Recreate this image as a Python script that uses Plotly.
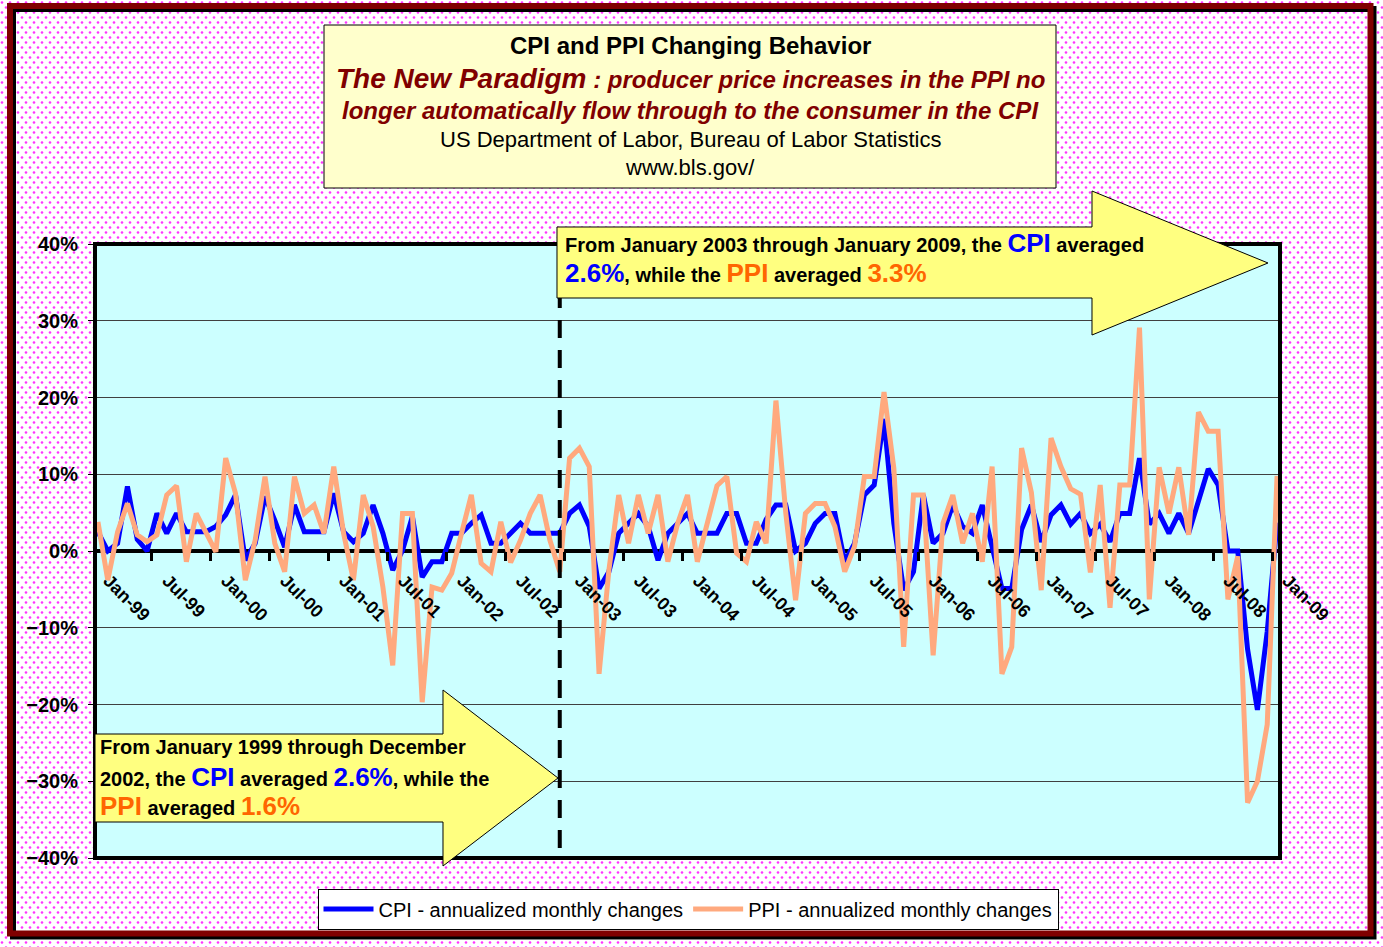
import base64
import plotly.graph_objects as go

# ---------------- data ----------------
months = list(range(121))  # Jan-99 .. Jan-09
tick_labels = ["Jan-99", "Jul-99", "Jan-00", "Jul-00", "Jan-01", "Jul-01", "Jan-02", "Jul-02",
               "Jan-03", "Jul-03", "Jan-04", "Jul-04", "Jan-05", "Jul-05", "Jan-06", "Jul-06",
               "Jan-07", "Jul-07", "Jan-08", "Jul-08", "Jan-09"]
tick_positions = [0, 6, 12, 18, 24, 30, 36, 42, 48, 54, 60, 66, 72, 78, 84, 90, 96, 102, 108, 114, 120]

cpi = [2.5, 0.0, 1.0, 8.4, 1.5, 0.0, 4.9, 2.3, 4.9, 2.5, 2.5, 2.5,
       3.2, 4.7, 7.3, -1.2, 1.0, 7.1, 4.0, 0.5, 6.0, 2.5, 2.5, 2.5,
       7.5, 2.5, 1.2, 2.3, 6.0, 2.3, -2.5, 0.1, 4.5, -3.4, -1.4, -1.4,
       2.3, 2.3, 3.6, 4.7, 1.0, 1.0, 2.3, 3.6, 2.3, 2.3, 2.3, 2.3,
       4.9, 6.0, 3.2, -4.9, -2.7, 2.3, 3.6, 4.9, 3.2, -1.2, 2.3, 3.6,
       4.9, 2.3, 2.3, 2.3, 4.9, 4.9, 1.0, 1.0, 4.1, 6.0, 6.0, 0.0,
       1.0, 3.6, 4.9, 4.9, -1.4, 1.0, 7.3, 8.6, 17.2, 3.6, -5.1, -2.7,
       7.3, 1.0, 2.3, 6.0, 3.2, 2.3, 6.0, 0.6, -4.9, -4.9, 2.8, 6.0,
       1.2, 4.7, 6.0, 3.5, 4.9, 2.3, 3.5, 1.2, 4.9, 4.9, 12.1, 3.5,
       4.9, 2.3, 4.9, 2.3, 6.3, 10.7, 8.6, 0.0, 0.0, -12.8, -20.7, -10.5,
       3.7]

ppi = [3.8, -3.8, 2.5, 6.2, 2.1, 1.2, 2.1, 7.3, 8.5, -1.4, 4.9, 2.5,
       -0.1, 12.1, 7.5, -3.8, 1.4, 9.7, 1.0, -2.7, 9.7, 4.9, 6.0, 2.3,
       11.0, 2.3, -3.8, 7.3, 3.2, -4.7, -14.9, 4.9, 4.9, -19.7, -4.7, -5.1,
       -2.9, 2.3, 7.3, -1.6, -2.7, 3.8, -1.5, 1.4, 4.9, 7.3, 1.4, -2.7,
       12.1, 13.4, 11.0, -16.0, -2.5, 7.3, 1.0, 7.3, 2.3, 7.3, -1.4, 3.6,
       7.3, -1.4, 3.6, 8.5, 9.7, -0.3, -1.4, 3.8, 1.0, 19.6, 5.0, -6.4,
       4.9, 6.2, 6.2, 3.2, -2.7, 0.6, 9.7, 9.7, 20.7, 10.8, -12.5, 7.3,
       7.3, -13.6, 3.6, 7.3, 1.0, 4.9, -1.4, 11.0, -16.0, -12.5, 13.4, 7.6,
       -5.1, 14.7, 11.0, 8.1, 7.4, -2.8, 8.6, -7.4, 8.6, 8.6, 29.1, -6.3,
       10.9, 4.9, 10.9, 2.1, 18.1, 15.6, 15.6, -6.3, -0.7, -32.8, -30.0, -22.6,
       9.8]

split_month = 47  # Dec-02

# ---------------- geometry helpers ----------------
W, H = 1383, 947
L, R, T, B = 95, 1280, 244, 858
FONT = "Liberation Sans, Arial, sans-serif"


def px(x):
    return (x - L) / (R - L)


def py(y):
    return (B - y) / (B - T)


def path(points):
    return "M " + " L ".join(f"{px(a):.5f},{py(b):.5f}" for a, b in points) + " Z"


# dotted background pattern
svg = (f'<svg xmlns="http://www.w3.org/2000/svg" width="{W}" height="{H}">'
       '<defs><pattern id="p" width="8" height="10" patternUnits="userSpaceOnUse">'
       '<rect width="8" height="10" fill="white"/>'
       '<circle cx="2" cy="2.5" r="1.3" fill="#FF33FF"/>'
       '<circle cx="6" cy="7.5" r="1.3" fill="#FF33FF"/>'
       '</pattern></defs>'
       f'<rect width="{W}" height="{H}" fill="url(#p)"/></svg>')
bg_uri = "data:image/svg+xml;base64," + base64.b64encode(svg.encode()).decode()

fig = go.Figure()
fig.add_trace(go.Scatter(x=months, y=cpi, mode="lines", name="CPI - annualized monthly changes",
                         line=dict(color="#0000FF", width=5)))
fig.add_trace(go.Scatter(x=months, y=ppi, mode="lines", name="PPI - annualized monthly changes",
                         line=dict(color="#FFA97E", width=5)))

shapes = []
# plot area fill
shapes.append(dict(type="rect", xref="x domain", yref="y domain", x0=0, x1=1, y0=0, y1=1,
                   fillcolor="#CCFFFF", line=dict(width=0), layer="below"))
# plot border
shapes.append(dict(type="rect", xref="x domain", yref="y domain", x0=0, x1=1, y0=0, y1=1,
                   line=dict(color="black", width=4), layer="above"))
# dashed split line
shapes.append(dict(type="line", xref="x", yref="y", x0=split_month, x1=split_month, y0=-38.7, y1=40,
                   line=dict(color="black", width=4, dash="18px,12px"), layer="above"))
# arrows
shapes.append(dict(type="path", xref="paper", yref="paper",
                   path=path([(557, 227), (1092, 227), (1092, 191), (1268, 263), (1092, 335), (1092, 298), (557, 298)]),
                   fillcolor="#FFFF80", line=dict(color="black", width=1), layer="above"))
shapes.append(dict(type="path", xref="paper", yref="paper",
                   path=path([(95, 734), (443, 734), (443, 690), (558, 778), (443, 866), (443, 822), (95, 822)]),
                   fillcolor="#FFFF80", line=dict(color="black", width=1), layer="above"))
# title box
shapes.append(dict(type="rect", xref="paper", yref="paper", x0=px(324), x1=px(1056), y0=py(188), y1=py(25),
                   fillcolor="#FFFFCC", line=dict(color="black", width=1), layer="above"))
# outer frame with shadow
shapes.append(dict(type="rect", xref="paper", yref="paper", x0=px(13), x1=px(1373.5), y0=py(936.5), y1=py(9),
                   line=dict(color="black", width=6), layer="above"))
shapes.append(dict(type="rect", xref="paper", yref="paper", x0=px(10), x1=px(1370.5), y0=py(933.5), y1=py(6),
                   line=dict(color="#800000", width=6), layer="above"))

annotations = []


def ann(text, x, y, size, color="black", xanchor="center"):
    annotations.append(dict(text=text, x=px(x), y=py(y), xref="paper", yref="paper",
                            xanchor=xanchor, yanchor="middle", showarrow=False, align="left",
                            font=dict(family=FONT, size=size, color=color)))


# title block
ann("<b>CPI and PPI Changing Behavior</b>", 690, 45, 24)
ann("<b><i><span style='font-size:28px'>The New Paradigm</span> : producer price increases in the PPI no</i></b>",
    690, 78, 24, "#800000")
ann("<b><i>longer automatically flow through to the consumer in the CPI</i></b>", 690, 111, 24, "#800000")
ann("US Department of Labor, Bureau of Labor Statistics", 690, 140, 22)
ann("www.bls.gov/", 690, 168, 22)

BL = "<span style='color:#0000FF;font-size:26px'>"
OR = "<span style='color:#FF6600;font-size:26px'>"
E = "</span>"
# upper arrow text
ann(f"<b>From January 2003 through January 2009, the {BL}CPI{E} averaged</b>", 563, 243, 20, xanchor="left")
ann(f"<b>{BL}2.6%{E}, while the {OR}PPI{E} averaged {OR}3.3%{E}</b>", 563, 273, 20, xanchor="left")
# lower arrow text
ann("<b>From January 1999 through December</b>", 98, 747, 20, xanchor="left")
ann(f"<b>2002, the {BL}CPI{E} averaged {BL}2.6%{E}, while the</b>", 98, 777, 20, xanchor="left")
ann(f"<b>{OR}PPI{E} averaged {OR}1.6%{E}</b>", 98, 806, 20, xanchor="left")

NB = "\u00a0\u00a0\u00a0"

fig.update_layout(
    template="none",
    width=W, height=H,
    margin=dict(l=L, r=W - R, t=T, b=H - B, autoexpand=False),
    paper_bgcolor="white",
    plot_bgcolor="rgba(0,0,0,0)",
    font=dict(family=FONT, color="black"),
    shapes=shapes,
    annotations=annotations,
    images=[dict(source=bg_uri, xref="paper", yref="paper", x=px(0), y=py(0),
                 sizex=W / (R - L), sizey=H / (B - T), xanchor="left", yanchor="top",
                 sizing="stretch", layer="below")],
    showlegend=True,
    legend=dict(orientation="h", x=px(688), y=py(909), xanchor="center", yanchor="middle",
                bgcolor="white", bordercolor="black", borderwidth=1,
                font=dict(family=FONT, size=20, color="black"), itemwidth=50,
                tracegroupgap=0),
    xaxis=dict(range=[-0.3, 120.3], tickmode="array", tickvals=tick_positions,
               ticktext=[NB + t for t in tick_labels],
               tickangle=45, ticks="", showgrid=False, zeroline=False, showline=False,
               anchor="free", position=0.5, automargin=False, ticklabelstandoff=4,
               tickfont=dict(family=FONT, size=18, weight="bold", color="black"),
               minor=dict(tickmode="array", tickvals=[5.5 + 6 * k for k in range(20)],
                          ticks="outside", ticklen=9, tickwidth=3, tickcolor="black", showgrid=False)),
    yaxis=dict(range=[-40, 40], dtick=10, ticksuffix="%", showgrid=True, gridcolor="#404040", gridwidth=1,
               zeroline=True, zerolinecolor="black", zerolinewidth=4, ticks="outside", ticklen=6,
               tickcolor="black", automargin=False, showline=False, ticklabelstandoff=6,
               tickfont=dict(family=FONT, size=20, weight="bold", color="black")),
)

fig.write_html("out.html", config={"displayModeBar": False},
               post_script="document.body.style.margin='0';document.body.style.overflow='hidden';")
